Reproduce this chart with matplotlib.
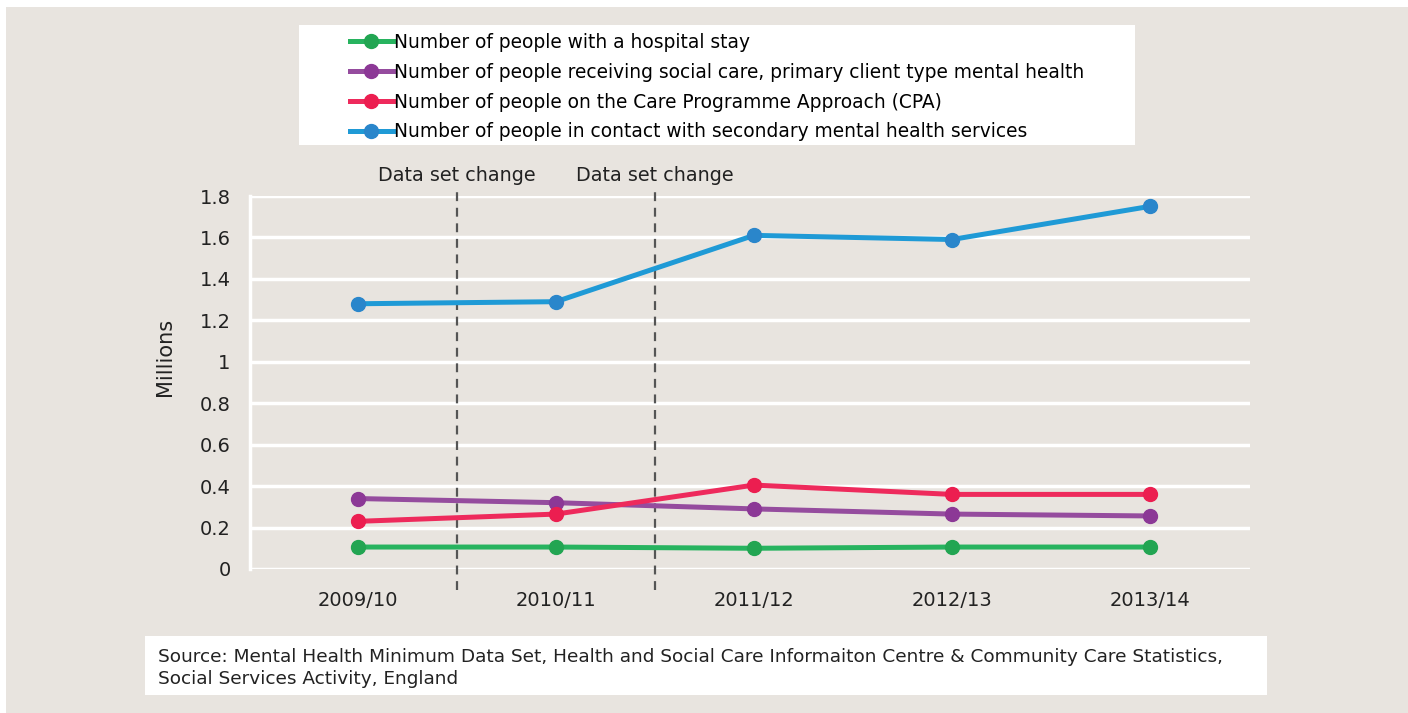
import matplotlib
matplotlib.use("Agg")
import matplotlib.pyplot as plt
from matplotlib.patches import Rectangle

# data (millions)
years = ["2009/10", "2010/11", "2011/12", "2012/13", "2013/14"]
hospital = [0.106, 0.106, 0.100, 0.106, 0.106]
social_care = [0.34, 0.32, 0.29, 0.265, 0.256]
cpa = [0.23, 0.265, 0.405, 0.36, 0.36]
secondary = [1.28, 1.29, 1.61, 1.59, 1.75]

labels = [
    "Number of people with a hospital stay",
    "Number of people receiving social care, primary client type mental health",
    "Number of people on the Care Programme Approach (CPA)",
    "Number of people in contact with secondary mental health services",
]
change_positions = [0.5, 1.5]
change_label = "Data set change"
source_text = ("Source: Mental Health Minimum Data Set, Health and Social Care Informaiton Centre & Community Care Statistics,\n"
               "Social Services Activity, England")

BG = "#e8e4df"
line_colors = ["#27b35f", "#954c9e", "#ee2a5c", "#1f9ad6"]
marker_colors = ["#22a552", "#8c3896", "#ec1e50", "#2a86cb"]

plt.rcParams["font.family"] = ["DejaVu Sans"]

fig = plt.figure(figsize=(14.08, 7.13), dpi=100, facecolor="white")
W, H = 1408, 713
fig.patches.append(Rectangle((6 / W, 0), 1, 1 - 7 / H, transform=fig.transFigure,
                             facecolor=BG, edgecolor="none", zorder=-10))

ax = fig.add_axes([250 / W, 1 - 569 / H, 1000 / W, 373 / H])
ax.set_facecolor(BG)
ax.patch.set_alpha(0)

x = list(range(len(years)))
series = [hospital, social_care, cpa, secondary]
handles = []
for vals, lc, mc, lab in zip(series, line_colors, marker_colors, labels):
    (h,) = ax.plot(x, vals, "-o", color=lc, lw=3.6, markersize=10,
                   markerfacecolor=mc, markeredgecolor=mc, label=lab, zorder=3)
    handles.append(h)

ax.set_xlim(-0.545, 4.505)
ax.set_ylim(0, 1.8)
ax.set_yticks([0, 0.2, 0.4, 0.6, 0.8, 1.0, 1.2, 1.4, 1.6, 1.8])
ax.set_yticklabels(["0", "0.2", "0.4", "0.6", "0.8", "1", "1.2", "1.4", "1.6", "1.8"])
ax.set_xticks(x)
ax.set_xticklabels(years)
ax.tick_params(length=0, labelsize=14, colors="#222222")
ax.tick_params(axis="y", pad=14)
ax.tick_params(axis="x", pad=16)
ax.grid(axis="y", color="white", lw=2.5, zorder=0)
for s in ["top", "right", "bottom"]:
    ax.spines[s].set_visible(False)
ax.spines["left"].set_color("white")
ax.spines["left"].set_linewidth(2.5)
ax.set_ylabel("Millions", fontsize=15, color="#222222")
ax.yaxis.set_label_coords(-75 / 1000, (569 - 357) / 373)

for cx in change_positions:
    ax.plot([cx, cx], [-0.10, 1.83], ls=(0, (4, 3)), color="#555555", lw=1.6,
            clip_on=False, zorder=2)
    ax.text(cx, 1.855, change_label, ha="center", va="bottom", fontsize=13.8,
            color="#222222")

# legend box
fig.patches.append(Rectangle((299 / W, 1 - 145 / H), 836 / W, 120 / H,
                             transform=fig.transFigure, facecolor="white",
                             edgecolor="none", zorder=0))
leg = fig.legend(handles, labels, loc="upper left",
                 bbox_to_anchor=(350 / W, 1 - 33 / H), frameon=False,
                 fontsize=13.4, handlelength=2.3, handletextpad=0.05,
                 labelspacing=0.58, borderaxespad=0, borderpad=0)

# source box
fig.patches.append(Rectangle((145 / W, 1 - 695 / H), 1122 / W, 59 / H,
                             transform=fig.transFigure, facecolor="white",
                             edgecolor="none", zorder=0))
fig.text(158 / W, 1 - 668 / H, source_text, ha="left", va="center",
         fontsize=13.3, color="#222222", linespacing=1.25)

fig.savefig("out.png", dpi=100, facecolor=fig.get_facecolor())
